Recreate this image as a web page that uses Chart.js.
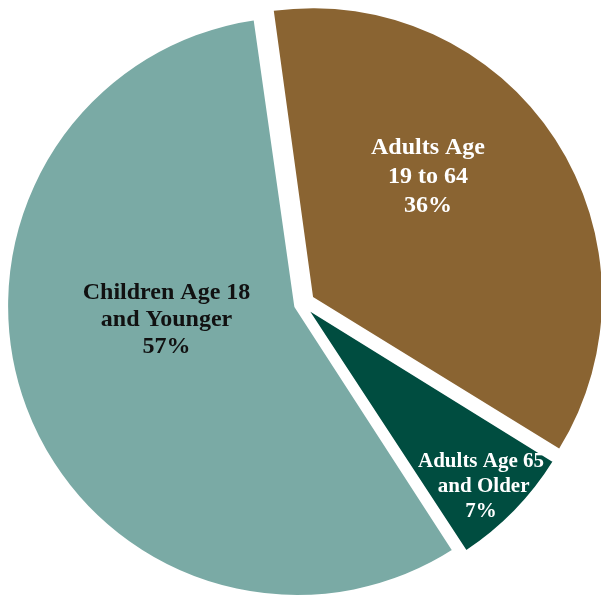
<!DOCTYPE html>
<html>
<head>
<meta charset="utf-8">
<script src="https://cdn.jsdelivr.net/npm/chart.js@4.4.1/dist/chart.umd.min.js"></script>
<style>
  html, body { margin: 0; padding: 0; background: #ffffff; }
  #wrap { width: 601px; height: 598px; position: relative; }
</style>
</head>
<body>
<div id="wrap"><canvas id="c"></canvas></div>
<script>
// ---- data ----
const categories = [
  ["Adults Age", "19 to 64"],
  ["Adults Age 65", " and Older"],
  ["Children Age 18", "and Younger"]
];
const shares = [36, 7, 57];
const percentLabels = ["36%", "7%", "57%"];
const sliceColors = ["#8A6432", "#004D40", "#7AAAA5"];
// styling of the exploded slices
const sliceOffsets = [50.4, 26.7, 23];
const sliceBorderWidths = [0, 1.9, 5.7];
const labelColors = ["#ffffff", "#ffffff", "#111111"];
const labelFontSizes = [24, 21, 24];
const labelLineHeights = [29, 25, 27];
// label anchor: fraction of radius, angle shift from slice mid-angle (degrees)
const labelRadiusFrac = [0.581, 0.868, 0.459];
const labelAngleShift = [-13.15, 1.3, 14.4];

const sliceLabels = {
  id: 'sliceLabels',
  afterDatasetsDraw(chart) {
    const ctx = chart.ctx;
    const meta = chart.getDatasetMeta(0);
    meta.data.forEach((arc, i) => {
      const p = arc.getProps(['x', 'y', 'startAngle', 'endAngle', 'outerRadius'], true);
      const mid = (p.startAngle + p.endAngle) / 2;
      const t = (arc.options.offset || 0) / 4;
      const cx = p.x + Math.cos(mid) * t;
      const cy = p.y + Math.sin(mid) * t;
      const a = mid + labelAngleShift[i] * Math.PI / 180;
      const r = p.outerRadius * labelRadiusFrac[i];
      const lx = cx + Math.cos(a) * r;
      const ly = cy + Math.sin(a) * r;
      const lines = categories[i].concat([percentLabels[i]]);
      ctx.save();
      ctx.fillStyle = labelColors[i];
      ctx.font = 'bold ' + labelFontSizes[i] + 'px "Liberation Serif", "DejaVu Serif", serif';
      ctx.textAlign = 'center';
      ctx.textBaseline = 'middle';
      const lh = labelLineHeights[i];
      lines.forEach((s, k) => {
        ctx.fillText(s, lx, ly + (k - (lines.length - 1) / 2) * lh);
      });
      ctx.restore();
    });
  }
};

new Chart(document.getElementById('c'), {
  type: 'pie',
  data: {
    labels: categories.map(c => c.join(' ').replace(/\s+/g, ' ')),
    datasets: [{
      data: shares,
      backgroundColor: sliceColors,
      borderColor: '#ffffff',
      borderWidth: sliceBorderWidths,
      offset: sliceOffsets
    }]
  },
  options: {
    responsive: true,
    maintainAspectRatio: false,
    animation: false,
    rotation: -7.9,
    radius: 286.1,
    layout: { padding: { left: 4, right: 0, top: 10, bottom: 0 } },
    plugins: {
      legend: { display: false },
      tooltip: { enabled: false }
    }
  },
  plugins: [sliceLabels]
});
</script>
</body>
</html>
